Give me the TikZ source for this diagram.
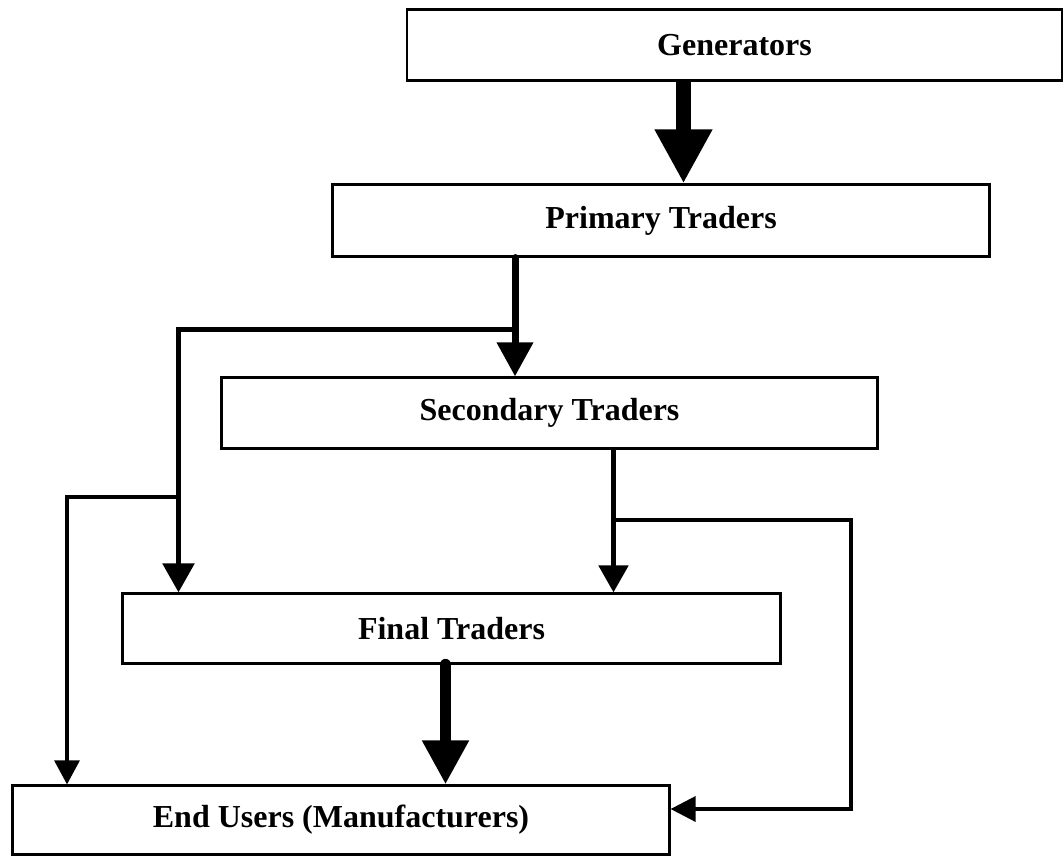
\documentclass[tikz,border=0pt]{standalone}
\usepackage{fontspec}
\setmainfont{Liberation Serif}
\usetikzlibrary{arrows.meta}
\tikzset{
  box/.style={draw=black, line width=2.2pt, fill=white, inner sep=0pt,
    font=\fontsize{32}{38}\selectfont\bfseries},
  conn/.style={draw=black, line join=miter},
}
\begin{document}
\begin{tikzpicture}[x=1pt,y=-1pt]
\useasboundingbox (0,0) rectangle (1064,856);
% boxes
\node[box, minimum width=655pt, minimum height=71pt] (gen) at (734.5,45) {Generators};
\node[box, minimum width=657pt, minimum height=72pt] (prim) at (661,220.5) {Primary Traders};
\node[box, minimum width=656pt, minimum height=71pt] (sec) at (549.5,413) {Secondary Traders};
\node[box, minimum width=658pt, minimum height=70pt] (fin) at (451.5,628.5) {Final Traders};
\node[box, minimum width=657pt, minimum height=69pt] (end) at (341,820) {End Users (Manufacturers)};
% helper coordinates
\coordinate (x1) at (683.5,0);
\coordinate (x2) at (515,0);
\coordinate (x3) at (178.5,0);
\coordinate (x4) at (67,0);
\coordinate (x5) at (613.5,0);
\coordinate (x6) at (851,0);
\coordinate (x7) at (445.5,0);
\coordinate (j1) at (515,329.5);
\coordinate (j2) at (178.5,497);
\coordinate (j3) at (613.5,520);
\coordinate (y6) at (0,809);
% connectors
\draw[conn, line width=15pt, -{Triangle[width=54pt,length=54pt]}]
  (gen.south -| x1) -- (prim.north -| x1);
\draw[conn, line width=7pt, line cap=round, -{Triangle[width=35pt,length=34pt]}]
  (prim.south -| x2) -- (sec.north -| x2);
\draw[conn, line width=5.5pt, -{Triangle[width=31pt,length=29pt]}]
  (j1) -| (fin.north -| x3);
\draw[conn, line width=3.2pt, -{Triangle[width=25pt,length=24pt]}]
  (j2) -| (end.north -| x4);
\draw[conn, line width=5pt, line cap=round, -{Triangle[width=29pt,length=27pt]}]
  (sec.south -| x5) -- (fin.north -| x5);
\draw[conn, line width=3.5pt, -{Triangle[width=25pt,length=25pt]}]
  (j3) -| (x6 |- y6) -- (end.east |- y6);
\draw[conn, line width=11.5pt, line cap=round, -{Triangle[width=44pt,length=44pt]}]
  (fin.south -| x7) -- (end.north -| x7);
\end{tikzpicture}
\end{document}
